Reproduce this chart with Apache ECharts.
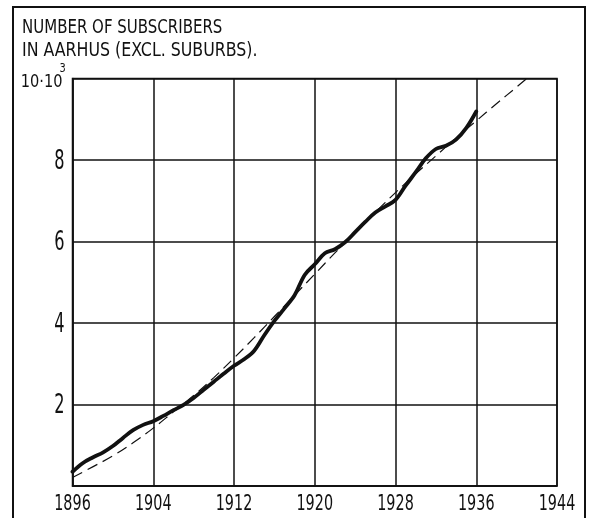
<!DOCTYPE html>
<html>
<head>
<meta charset="utf-8">
<script src="https://cdn.jsdelivr.net/npm/echarts@6/dist/echarts.min.js"></script>
<style>
  html, body { margin: 0; padding: 0; background: #fff; }
  #chart { width: 592px; height: 518px; }
</style>
</head>
<body>
<div id="chart"></div>
<script>
// Subscribers in Aarhus, thousands — observed growth (solid) and fitted trend (dashed)
const years = [1896, 1897, 1898, 1899, 1900, 1901, 1902, 1903, 1904, 1905,
               1906, 1907, 1908, 1909, 1910, 1911, 1912, 1913, 1914, 1915,
               1916, 1917, 1918, 1919, 1920, 1921, 1922, 1923, 1924, 1925,
               1926, 1927, 1928, 1929, 1930, 1931, 1932, 1933, 1934, 1935, 1936];
const subscribers = [0.35, 0.56, 0.70, 0.82, 0.98, 1.18, 1.37, 1.50, 1.59, 1.72,
                     1.86, 1.99, 2.16, 2.36, 2.56, 2.76, 2.95, 3.11, 3.32, 3.70,
                     4.05, 4.36, 4.68, 5.18, 5.44, 5.71, 5.81, 5.98, 6.23, 6.48,
                     6.71, 6.86, 7.02, 7.37, 7.70, 8.04, 8.27, 8.35, 8.50, 8.78, 9.19];

const trendYears = [1896, 1898, 1900, 1902, 1904, 1906, 1908, 1910, 1912, 1914,
                    1916, 1918, 1920, 1922, 1924, 1926, 1928, 1930, 1932, 1934,
                    1936, 1938, 1940, 1941];
const trendValues = [0.21, 0.47, 0.74, 1.06, 1.42, 1.82, 2.22, 2.66, 3.14, 3.64,
                     4.16, 4.68, 5.20, 5.72, 6.22, 6.72, 7.20, 7.66, 8.10, 8.54,
                     8.96, 9.38, 9.79, 10.0];

const xTicks = [1896, 1904, 1912, 1920, 1928, 1936, 1944];
const yTicks = [2, 4, 6, 8];
const yTopValue = 10;
const yTopLabel = '10·10';
const yTopExponent = '3';
const titleLines = ['NUMBER OF SUBSCRIBERS', 'IN AARHUS (EXCL. SUBURBS).'];

const FAMILY = '"DejaVu Sans", "Liberation Sans", sans-serif';
const INK = '#111';

const chart = echarts.init(document.getElementById('chart'), null, { renderer: 'canvas' });

chart.setOption({
  backgroundColor: '#fff',
  animation: false,
  grid: {
    left: 72.5, right: 35, top: 78.5, bottom: 32,
    show: true, borderColor: INK, borderWidth: 1.5, backgroundColor: 'transparent'
  },
  xAxis: {
    type: 'value',
    min: xTicks[0], max: xTicks[xTicks.length - 1], interval: 8,
    axisLine: { show: true, lineStyle: { color: INK, width: 1.5 } },
    axisTick: { show: false },
    splitLine: { show: true, lineStyle: { color: INK, width: 1.5 } },
    axisLabel: { show: false }
  },
  yAxis: {
    type: 'value',
    min: 0, max: yTopValue, interval: 2,
    axisLine: { show: true, lineStyle: { color: INK, width: 1.5 } },
    axisTick: { show: false },
    splitLine: { show: true, lineStyle: { color: INK, width: 1.5 } },
    axisLabel: { show: false }
  },
  series: [
    {
      name: 'Trend',
      type: 'line',
      data: trendYears.map((y, i) => [y, trendValues[i]]),
      smooth: 0.4,
      showSymbol: false,
      lineStyle: { color: INK, width: 1.2, type: [11, 6] },
      z: 2
    },
    {
      name: 'Subscribers',
      type: 'line',
      data: years.map((y, i) => [y, subscribers[i]]),
      smooth: 0.35,
      showSymbol: false,
      lineStyle: { color: INK, width: 3.8, cap: 'round', join: 'round' },
      z: 3
    }
  ]
});

// Narrow lettering: horizontally condensed text anchored at (x, y)
function narrowText(text, x, y, size, scaleX, align, vAlign) {
  return {
    type: 'text',
    x: x, y: y,
    originX: 0, originY: 0,
    scaleX: scaleX,
    silent: true,
    z: 10,
    style: {
      text: text,
      x: 0, y: 0,
      font: size + 'px ' + FAMILY,
      fill: INK,
      textAlign: align, align: align,
      textVerticalAlign: vAlign, verticalAlign: vAlign
    }
  };
}

const toPx = (x, y) => chart.convertToPixel({ xAxisIndex: 0, yAxisIndex: 0 }, [x, y]);

const labels = [];
// year labels under the plot
xTicks.forEach(t => {
  const p = toPx(t, 0);
  labels.push(narrowText(String(t), p[0], p[1] + 18.5, 20.5, 0.7, 'center', 'middle'));
});
// value labels left of the plot
yTicks.forEach(t => {
  const p = toPx(xTicks[0], t);
  labels.push(narrowText(String(t), p[0] - 8, p[1] + 1.5, 27, 0.6, 'right', 'middle'));
});
const topPx = toPx(xTicks[0], yTopValue);
labels.push(narrowText(yTopLabel, topPx[0] - 10, topPx[1] + 3.5, 18, 0.81, 'right', 'middle'));
labels.push(narrowText(yTopExponent, topPx[0] - 13, topPx[1] - 9.5, 11.5, 0.85, 'left', 'middle'));

// heading
labels.push(narrowText(titleLines[0], 22, 27.5, 20, 0.75, 'left', 'middle'));
labels.push(narrowText(titleLines[1], 22, 51, 20, 0.79, 'left', 'middle'));

// frame around the figure
labels.push({
  type: 'polyline',
  silent: true,
  shape: { points: [[13, 518], [13, 7], [585, 7], [585, 518]] },
  style: { stroke: INK, lineWidth: 2, fill: null }
});

chart.setOption({ graphic: labels });
</script>
</body>
</html>
